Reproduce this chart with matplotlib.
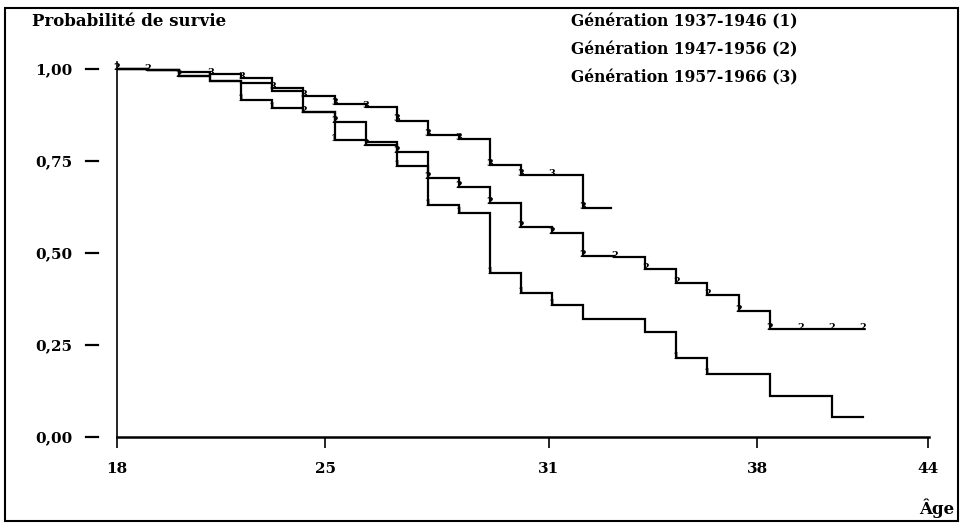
import matplotlib
matplotlib.use("Agg")
import matplotlib.pyplot as plt
from matplotlib.patches import Rectangle

W, H = 963, 525

# steps at whole ages (value holds from this age to the next)
AGES_1 = list(range(18, 42))
SURV_1 = [1.0, 0.997, 0.981, 0.967, 0.916, 0.893, 0.882, 0.807, 0.802, 0.736,
          0.630, 0.608, 0.445, 0.390, 0.359, 0.320, 0.320, 0.285, 0.214, 0.171,
          0.171, 0.111, 0.111, 0.055]
END_1 = 42.0
MARKS_1 = [22, 23, 25, 27, 28, 29, 30, 31, 32, 36, 37]

AGES_2 = list(range(18, 42))
SURV_2 = [1.0, 0.997, 0.981, 0.967, 0.961, 0.941, 0.882, 0.855, 0.793, 0.775,
          0.703, 0.680, 0.635, 0.571, 0.554, 0.492, 0.488, 0.456, 0.418, 0.386,
          0.342, 0.293, 0.293, 0.293]
END_2 = 42.05
MARKS_2 = [18, 19, 20] + list(range(24, 43))

AGES_3 = list(range(18, 34))
SURV_3 = [1.0, 0.997, 0.993, 0.986, 0.975, 0.948, 0.927, 0.905, 0.896, 0.860,
          0.821, 0.809, 0.739, 0.712, 0.712, 0.621]
END_3 = 33.9
MARKS_3 = list(range(21, 34))

LEGEND = ["Génération 1937-1946 (1)",
          "Génération 1947-1956 (2)",
          "Génération 1957-1966 (3)"]

X_TICKS = [18, 24.7, 31.9, 38.6, 44.1]
X_LABELS = ["18", "25", "31", "38", "44"]
Y_TICKS = [0.0, 0.25, 0.5, 0.75, 1.0]
Y_LABELS = ["0,00", "0,25", "0,50", "0,75", "1,00"]

FONT = "DejaVu Serif"


def value_at(ages, surv, end, age):
    if age >= end:
        return surv[-1]
    idx = max(i for i, a in enumerate(ages) if a <= age)
    return surv[idx]


fig = plt.figure(figsize=(W / 100, H / 100), dpi=100)
ax = fig.add_axes([117 / W, 88 / H, 812 / W, 375 / H])
ax.set_xlim(18, 44.13)
ax.set_ylim(0, 1.019)

curves = [
    (AGES_1, SURV_1, END_1, MARKS_1, "1"),
    (AGES_2, SURV_2, END_2, MARKS_2, "2"),
    (AGES_3, SURV_3, END_3, MARKS_3, "3"),
]
for ages, surv, end, marks, tag in curves:
    ax.step(ages + [end], surv + [surv[-1]], where="post",
            color="black", lw=1.6, solid_joinstyle="miter")
    for age in marks:
        x = min(age, end)
        v = value_at(ages, surv, end, x)
        ax.text(x, v - 0.008, tag, ha="center", va="bottom",
                fontsize=7, fontweight="bold", family=FONT)

for side in ["top", "right"]:
    ax.spines[side].set_visible(False)
ax.spines["left"].set_linewidth(1.2)
ax.spines["bottom"].set_linewidth(1.8)

ax.set_xticks(X_TICKS)
ax.set_xticklabels(X_LABELS)
ax.tick_params(axis="x", direction="out", length=8, width=1.2, pad=10)

ax.set_yticks(Y_TICKS)
ax.set_yticklabels(Y_LABELS)
ax.tick_params(axis="y", length=0, pad=32)
for v in Y_TICKS:
    ax.plot([-0.038, -0.024], [v, v], color="black", lw=1.6,
            transform=ax.get_yaxis_transform(), clip_on=False)

for lab in ax.get_xticklabels() + ax.get_yticklabels():
    lab.set_family(FONT)
    lab.set_fontweight("bold")
    lab.set_fontsize(11)

fig.text(32 / W, 1 - 21 / H, "Probabilité de survie", ha="left", va="center",
         family=FONT, fontweight="bold", fontsize=12)
for i, txt in enumerate(LEGEND):
    fig.text(571 / W, 1 - (22 + 28 * i) / H, txt, ha="left", va="center",
             family=FONT, fontweight="bold", fontsize=11.2)
fig.text(937 / W, 1 - 508 / H, "Âge", ha="center", va="center",
         family=FONT, fontweight="bold", fontsize=12)

fig.add_artist(Rectangle((5 / W, 4 / H), 953 / W, 513 / H,
                         transform=fig.transFigure, fill=False,
                         lw=1.5, color="black"))

fig.savefig("out.png", dpi=100)
